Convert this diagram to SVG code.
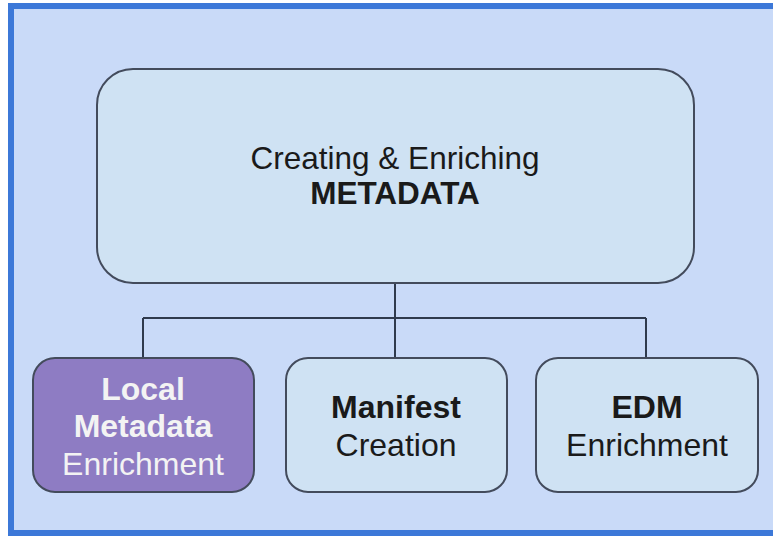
<svg xmlns="http://www.w3.org/2000/svg" width="773" height="537" viewBox="0 0 773 537">
<style>
.box{fill:#cfe2f3;stroke:#434b5c;stroke-width:2}
.hl{fill:#8e7cc3;stroke:#434b5c;stroke-width:2}
.t{font-family:"Liberation Sans",Arial,sans-serif;font-size:31.5px;fill:#1a1a1a;text-anchor:middle}
.s{font-size:32px}
.b{font-weight:bold}
.w{fill:#f3f3f3}
.c{fill:none;stroke:#2f3a4d;stroke-width:2}
</style>
<rect x="0" y="0" width="773" height="537" fill="#ffffff"/>
<rect x="11" y="6" width="790" height="527" fill="#c9daf8" stroke="#3c78d8" stroke-width="6"/>
<g id="connectors">
<path class="c" d="M395 283V318M143 318H646M143 318V358M395 318V358M646 318V358"/>
</g>
<g id="main">
<rect class="box" x="97" y="69" width="597" height="214" rx="36"/>
<text class="t" x="395" y="169">Creating &amp; Enriching</text>
<text class="t b" x="395" y="204">METADATA</text>
</g>
<g id="local">
<rect class="hl" x="33" y="358" width="221" height="134" rx="22"/>
<text class="t s b w" x="143" y="400">Local</text>
<text class="t s b w" x="143" y="437">Metadata</text>
<text class="t s w" x="143" y="475">Enrichment</text>
</g>
<g id="manifest">
<rect class="box" x="286" y="358" width="221" height="134" rx="22"/>
<text class="t s b" x="396" y="418">Manifest</text>
<text class="t s" x="396" y="456">Creation</text>
</g>
<g id="edm">
<rect class="box" x="536" y="358" width="222" height="134" rx="22"/>
<text class="t s b" x="647" y="418">EDM</text>
<text class="t s" x="647" y="456">Enrichment</text>
</g>
</svg>
